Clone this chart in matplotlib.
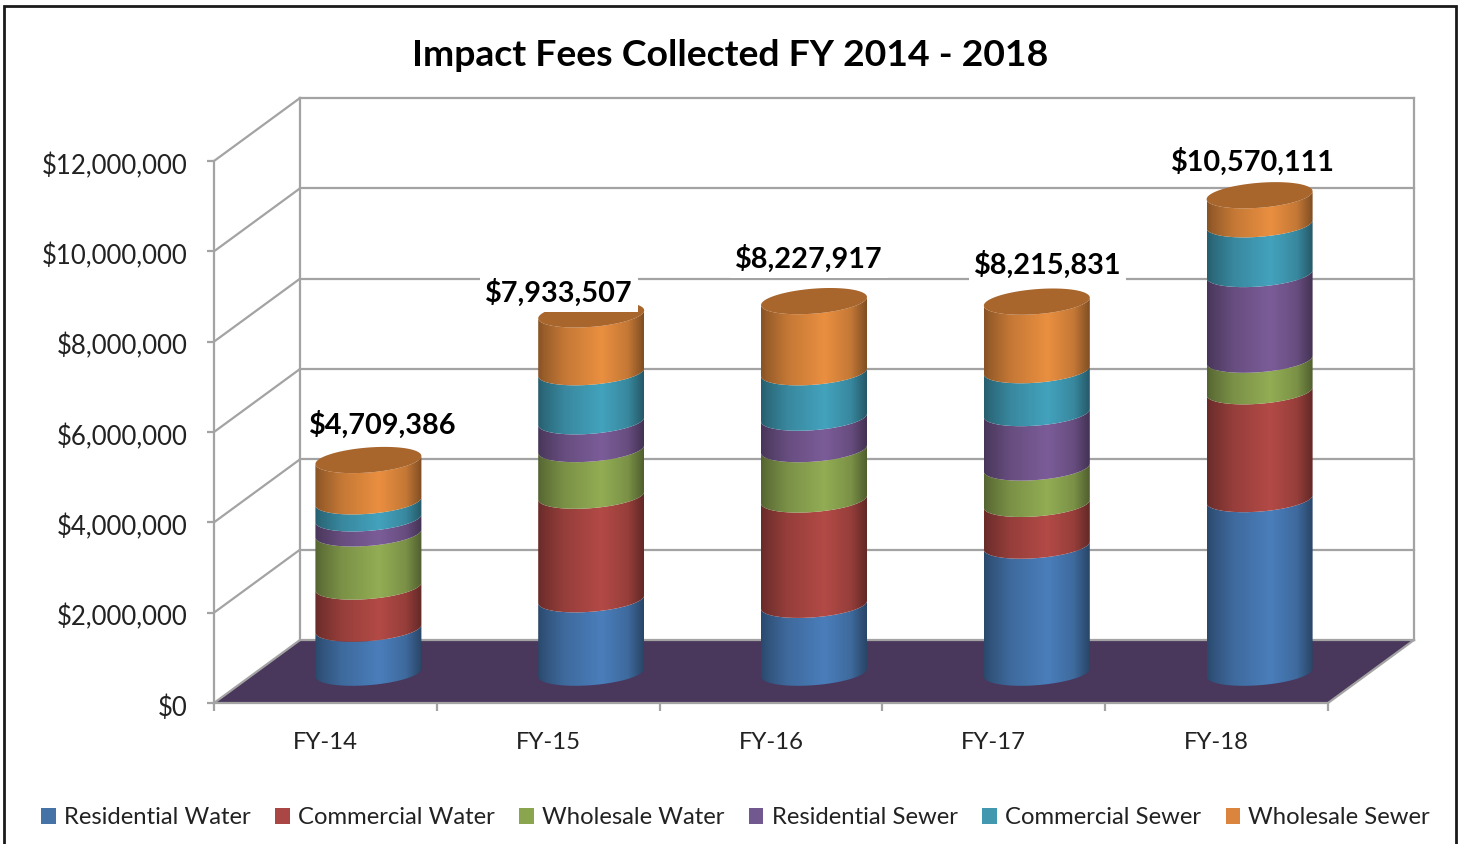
import numpy as np
import matplotlib
matplotlib.use('Agg')
import matplotlib.pyplot as plt
from matplotlib.patches import Patch, PathPatch, Polygon, Rectangle
from matplotlib.path import Path
from matplotlib.transforms import ScaledTranslation

years = ['FY-14', 'FY-15', 'FY-16', 'FY-17', 'FY-18']
totals = [4709386, 7933507, 8227917, 8215831, 10570111]
# values, in millions
res_water = [0.976, 1.626, 1.503, 2.814, 3.844]
com_water = [0.932, 2.293, 2.332, 0.924, 2.387]
whl_water = [1.176, 1.033, 1.115, 0.805, 0.699]
res_sewer = [0.333, 0.614, 0.697, 1.205, 1.897]
com_sewer = [0.377, 1.087, 1.005, 0.950, 1.101]
whl_sewer = [0.915, 1.280, 1.575, 1.518, 0.643]
series = [res_water, com_water, whl_water, res_sewer, com_sewer, whl_sewer]
names = ['Residential Water', 'Commercial Water', 'Wholesale Water',
         'Residential Sewer', 'Commercial Sewer', 'Wholesale Sewer']
colors = ['#4a7ebb', '#b34a46', '#92ad54', '#7b5c98', '#43a2bd', '#ea8f40']
legend_colors = ['#4573a7', '#aa4643', '#89a54e', '#71588f', '#4198af', '#db843d']

W, H = 1463, 844
plt.rcParams['font.family'] = ['Lato', 'DejaVu Sans']
fig = plt.figure(figsize=(W/100, H/100), dpi=100)
ax = fig.add_axes([214/W, 1-703/H, (1328-214)/W, (703-161)/H])
ax.patch.set_visible(False)

# 3d look: pixel sizes turned into data units
PXX = 5/(1328-214)
PXY = 12/(703-161)
DX = 86*PXX    # depth of the box
DY = 63*PXY
BASE = DY/2-1.2*PXY    # where the columns stand on the floor
GREY = '#a3a3a3'
LW = 1.6

# floor and walls
ax.add_patch(Polygon([(0, 0), (5, 0), (5+DX, DY), (DX, DY)], fc='#49375c', ec='none',
                     clip_on=False, zorder=1))
for v in range(0, 14, 2):
    ax.plot([0, DX], [v, v+DY], color=GREY, lw=LW, clip_on=False, zorder=1)
    ax.plot([DX, 5+DX], [v+DY, v+DY], color=GREY, lw=LW, clip_on=False, zorder=1)
ax.plot([DX, DX], [DY, 12+DY], color=GREY, lw=LW, clip_on=False, zorder=1)
ax.plot([5+DX, 5+DX], [DY, 12+DY], color=GREY, lw=LW, clip_on=False, zorder=1)
ax.plot([5, 5+DX], [0, DY], color=GREY, lw=LW, clip_on=False, zorder=1)

# cylinder shading, left to right
shade_u = np.array([0, .06, .25, .6, .85, 1])
shade_k = np.array([.58, .66, .84, 1, .84, .55])


def hex_rgb(c):
    return np.array(matplotlib.colors.to_rgb(c))


def arc(cat, val, start=np.pi, end=0):
    # front half of the tilted ellipse of the cylinder
    t = np.linspace(start, end, 80)
    x = cat+.5+DX/2+53*PXX*np.cos(t)
    y = val+BASE-12.5*PXY*np.sin(t)+4*PXY*np.cos(t)
    return np.column_stack([x, y])


def shaded(verts, cat, color, y0, y1, zorder=3):
    path = Path(np.vstack([verts, verts[:1]]))
    u = np.linspace(0, 1, 160)
    grad = np.outer(np.interp(u, shade_u, shade_k), hex_rgb(color))[None, :, :]
    cx = cat+.5+DX/2
    im = ax.imshow(grad, extent=(cx-53*PXX, cx+53*PXX, y0, y1), aspect='auto',
                   interpolation='bilinear', zorder=zorder)
    im.set_clip_path(PathPatch(path, transform=ax.transData))


for i in range(len(years)):
    base = 0.0
    for s, c in zip(series, colors):
        low = arc(i, base)
        high = arc(i, base+s[i])
        shaded(np.vstack([low, high[::-1]]), i, c, base+BASE-1, base+s[i]+BASE+1)
        base += s[i]
    # top of the column
    cap = arc(i, base, 2*np.pi, 0)
    ax.add_patch(Polygon(cap, fc='#a8652c', ec='none', zorder=4))

# totals on top, white box hides what is behind
label_dx = [14, -32, -5, 11, -7]
label_dy = [34, 20, 41, 36, 32.5]
for i in range(len(years)):
    ax.annotate('${:,}'.format(totals[i]), xy=(i+.5+DX/2, totals[i]/1e6+DY/2),
                xytext=(label_dx[i]*.72, label_dy[i]*.72), textcoords='offset points',
                ha='center', va='center', fontsize=20.8, fontweight='bold', color='black',
                bbox=dict(fc='white', ec='none', pad=3.5), zorder=6)

ax.set_xlim(0, 5)
ax.set_ylim(0, 12)
ax.set_yticks(range(0, 14, 2))
ax.yaxis.set_major_formatter(lambda v, p: '${:,.0f}'.format(v*1e6))
ax.set_xticks(range(6), labels=[''] * 6)
ax.set_xticks(np.arange(5)+.5, labels=years, minor=True)
ax.tick_params(axis='x', which='minor', length=0, pad=21, labelsize=17.2, labelcolor='#222222')
ax.tick_params(axis='x', which='major', length=6, width=LW, color=GREY)
ax.tick_params(axis='y', length=5, width=LW, color=GREY, pad=14, labelsize=18.5, labelcolor='#222222')
down = ScaledTranslation(0, -2.5/100, fig.dpi_scale_trans)
for lab in ax.get_yticklabels():
    lab.set_transform(lab.get_transform()+down)
for side in ['top', 'right']:
    ax.spines[side].set_visible(False)
for side in ['left', 'bottom']:
    ax.spines[side].set_color(GREY)
    ax.spines[side].set_linewidth(LW)
    ax.spines[side].set_zorder(2)

fig.text(730/W, 1-56/H, 'Impact Fees Collected FY 2014 - 2018', ha='center', va='center',
         fontsize=26.9, fontweight='bold', color='black')

handles = [Patch(fc=c, ec='none') for c in legend_colors]
fig.legend(handles, names, ncol=6, loc='center', bbox_to_anchor=(735.5/W, 1-818/H),
           frameon=False, fontsize=17.2, handlelength=.6, handleheight=.6, handletextpad=.34,
           columnspacing=1.04, labelcolor='#222222')

# outer frame, runs off the bottom of the picture
fig.add_artist(Rectangle((4/W, -.05), (1456-4)/W, 1.05-6/H, transform=fig.transFigure,
                         fc='none', ec='#1a1a1a', lw=2))

fig.savefig('out.png', dpi=100)
